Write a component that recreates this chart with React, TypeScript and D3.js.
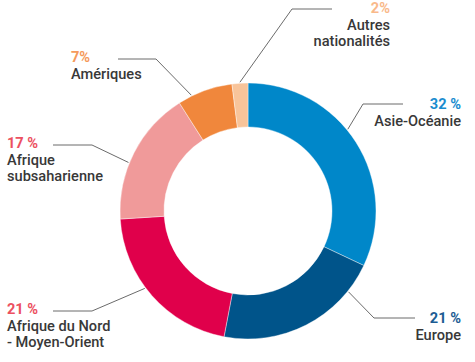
import React, { useEffect, useRef } from "react";
import * as d3 from "d3";

// parts, clockwise from 12 o'clock
const regions = ["Asie-Océanie", "Europe", "Afrique du Nord - Moyen-Orient", "Afrique subsaharienne", "Amériques", "Autres nationalités"];
const shares = [32, 21, 21, 17, 7, 2];
const shareLabels = ["32 %", "21 %", "21 %", "17 %", "7%", "2%"];
const labelLines = [["Asie-Océanie"], ["Europe"], ["Afrique du Nord", "- Moyen-Orient"], ["Afrique", "subsaharienne"], ["Amériques"], ["Autres", "nationalités"]];
const sliceColors = ["#0087c9", "#00548a", "#e0004b", "#f09a9a", "#f0873c", "#f8c49a"];
const pctColors = ["#1a8ccf", "#1c5c93", "#ec5060", "#ec5060", "#f59a5c", "#f9b98a"];

// label placement (annotation layout, not data)
const layout = [
  { frac: 0.44, elbow: [363, 104], end: 403, tx: 461, ty: 109, anchor: "end" },
  { frac: 0.18, elbow: [374, 318], end: 415, tx: 461, ty: 323, anchor: "end" },
  { frac: 0.56, elbow: [92, 311], end: 53, tx: 7, ty: 314, anchor: "start" },
  { frac: 0.42, elbow: [92, 145], end: 53, tx: 7, ty: 148, anchor: "start" },
  { frac: 0.25, elbow: [156, 59], end: 118, tx: 71, ty: 62, anchor: "start" },
  { frac: 0.5, elbow: [292, 9], end: 332, tx: 390, ty: 13, anchor: "end" },
];

const W = 475, H = 362;
const cx = 248, cy = 211, rOuter = 128, rInner = 84;

export default function App() {
  const ref = useRef<SVGSVGElement>(null);

  useEffect(() => {
    const svg = d3.select(ref.current);
    svg.selectAll("*").remove();

    const pie = d3.pie<number>().sort(null).value(d => d);
    const arcs = pie(shares);
    const arc = d3.arc<d3.PieArcDatum<number>>().innerRadius(rInner).outerRadius(rOuter);

    const g = svg.append("g").attr("transform", `translate(${cx},${cy})`);
    g.selectAll("path")
      .data(arcs)
      .enter().append("path")
      .attr("d", arc as any)
      .attr("fill", (d, i) => sliceColors[i])
      .attr("stroke", "#fff")
      .attr("stroke-width", 0.4);

    const font = "Roboto, 'Liberation Sans', Arial, sans-serif";

    arcs.forEach((a, i) => {
      const L = layout[i];
      const ang = a.startAngle + (a.endAngle - a.startAngle) * L.frac;
      const px = cx + Math.sin(ang) * (rOuter + 1);
      const py = cy - Math.cos(ang) * (rOuter + 1);
      svg.append("path")
        .attr("d", `M${px},${py}L${L.elbow[0]},${L.elbow[1]}L${L.end},${L.elbow[1]}`)
        .attr("fill", "none")
        .attr("stroke", "#6b6b6b")
        .attr("stroke-width", 1);

      const t = svg.append("text")
        .attr("font-family", font)
        .attr("font-size", 14.6)
        .attr("text-anchor", L.anchor);
      t.append("tspan")
        .attr("x", L.tx).attr("y", L.ty)
        .attr("fill", pctColors[i])
        .attr("font-weight", 700)
        .text(shareLabels[i]);
      labelLines[i].forEach((ln, k) => {
        t.append("tspan")
          .attr("x", L.tx).attr("y", L.ty + 16.5 * (k + 1))
          .attr("fill", "#383838")
          .attr("font-weight", 500)
          .text(ln);
      });
    });
  }, []);

  return (
    <svg ref={ref} width={W} height={H}
      style={{ position: "absolute", left: 0, top: 0, background: "#fff" }} />
  );
}
